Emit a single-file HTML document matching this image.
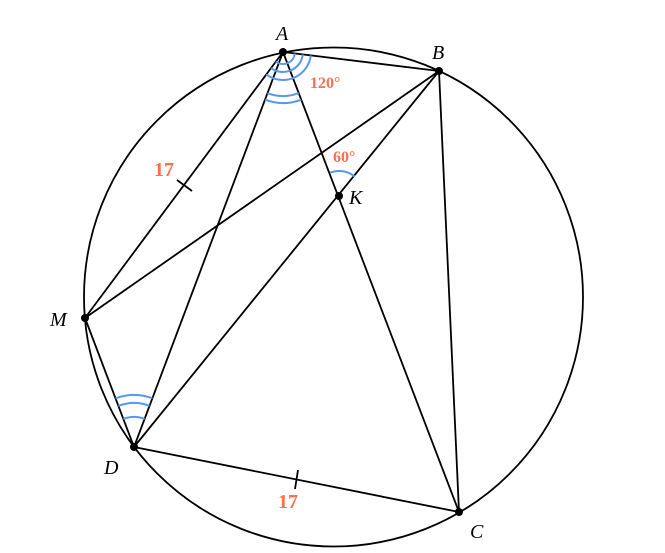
<!DOCTYPE html><html><head><style>body{margin:0;background:#fff}svg{display:block}</style></head><body>
<svg id="s" width="665" height="553" xmlns="http://www.w3.org/2000/svg" font-family="Liberation Serif, serif">
<circle cx="333.5" cy="297" r="249.5" fill="none" stroke="#000" stroke-width="1.8"/>
<g stroke="#000" stroke-width="1.8" fill="none">
<line x1="283" y1="52" x2="439" y2="71"/>
<line x1="283" y1="52" x2="85" y2="318"/>
<line x1="283" y1="52" x2="134" y2="447"/>
<line x1="283" y1="52" x2="459" y2="512"/>
<line x1="439" y1="71" x2="85" y2="318"/>
<line x1="439" y1="71" x2="459" y2="512"/>
<line x1="439" y1="71" x2="134" y2="447"/>
<line x1="85" y1="318" x2="134" y2="447"/>
<line x1="134" y1="447" x2="459" y2="512"/>
<line x1="177" y1="180" x2="192" y2="191"/>
<line x1="298" y1="470" x2="295" y2="489"/>
</g>
<g id="arcs" stroke="#5599ee" stroke-width="2" fill="none"></g>
<g fill="#000"><circle cx="283" cy="52" r="4"/><circle cx="439" cy="71" r="4"/><circle cx="339" cy="196" r="4"/><circle cx="85" cy="318" r="4"/><circle cx="134" cy="447" r="4"/><circle cx="459" cy="512" r="4"/></g>
<g font-style="italic" font-size="20">
<text x="276" y="40">A</text><text x="432" y="59">B</text><text x="349" y="204">K</text><text x="50" y="326">M</text><text x="104" y="474">D</text><text x="470" y="538">C</text>
</g>
<g fill="#ff6f4f" font-weight="bold">
<text x="310" y="88" font-size="16">120°</text>
<text x="333" y="162" font-size="16">60°</text>
<text x="154" y="176" font-size="20">17</text>
<text x="278" y="508" font-size="20">17</text>
</g>
</svg>
<script>
var g=document.getElementById('arcs');
function arc(cx,cy,r,p1,p2){var a1=Math.atan2(p1[1]-cy,p1[0]-cx),a2=Math.atan2(p2[1]-cy,p2[0]-cx);
var d=a2-a1;while(d>Math.PI)d-=2*Math.PI;while(d<-Math.PI)d+=2*Math.PI;
var x1=cx+r*Math.cos(a1),y1=cy+r*Math.sin(a1),x2=cx+r*Math.cos(a1+d),y2=cy+r*Math.sin(a1+d);
var p=document.createElementNS('http://www.w3.org/2000/svg','path');
p.setAttribute('d','M'+x1+' '+y1+' A'+r+' '+r+' 0 0 '+(d>0?1:0)+' '+x2+' '+y2);g.appendChild(p);}
var A=[283,52],B=[439,71],K=[339,196],M=[85,318],D=[134,447],C=[459,512];
[12,20,28].forEach(function(r){arc(A[0],A[1],r,B,M)});
[44,51].forEach(function(r){arc(A[0],A[1],r,D,C)});
[30,44,52].forEach(function(r){arc(D[0],D[1],r,M,A)});
arc(K[0],K[1],25,A,B);
</script>
</body></html>
